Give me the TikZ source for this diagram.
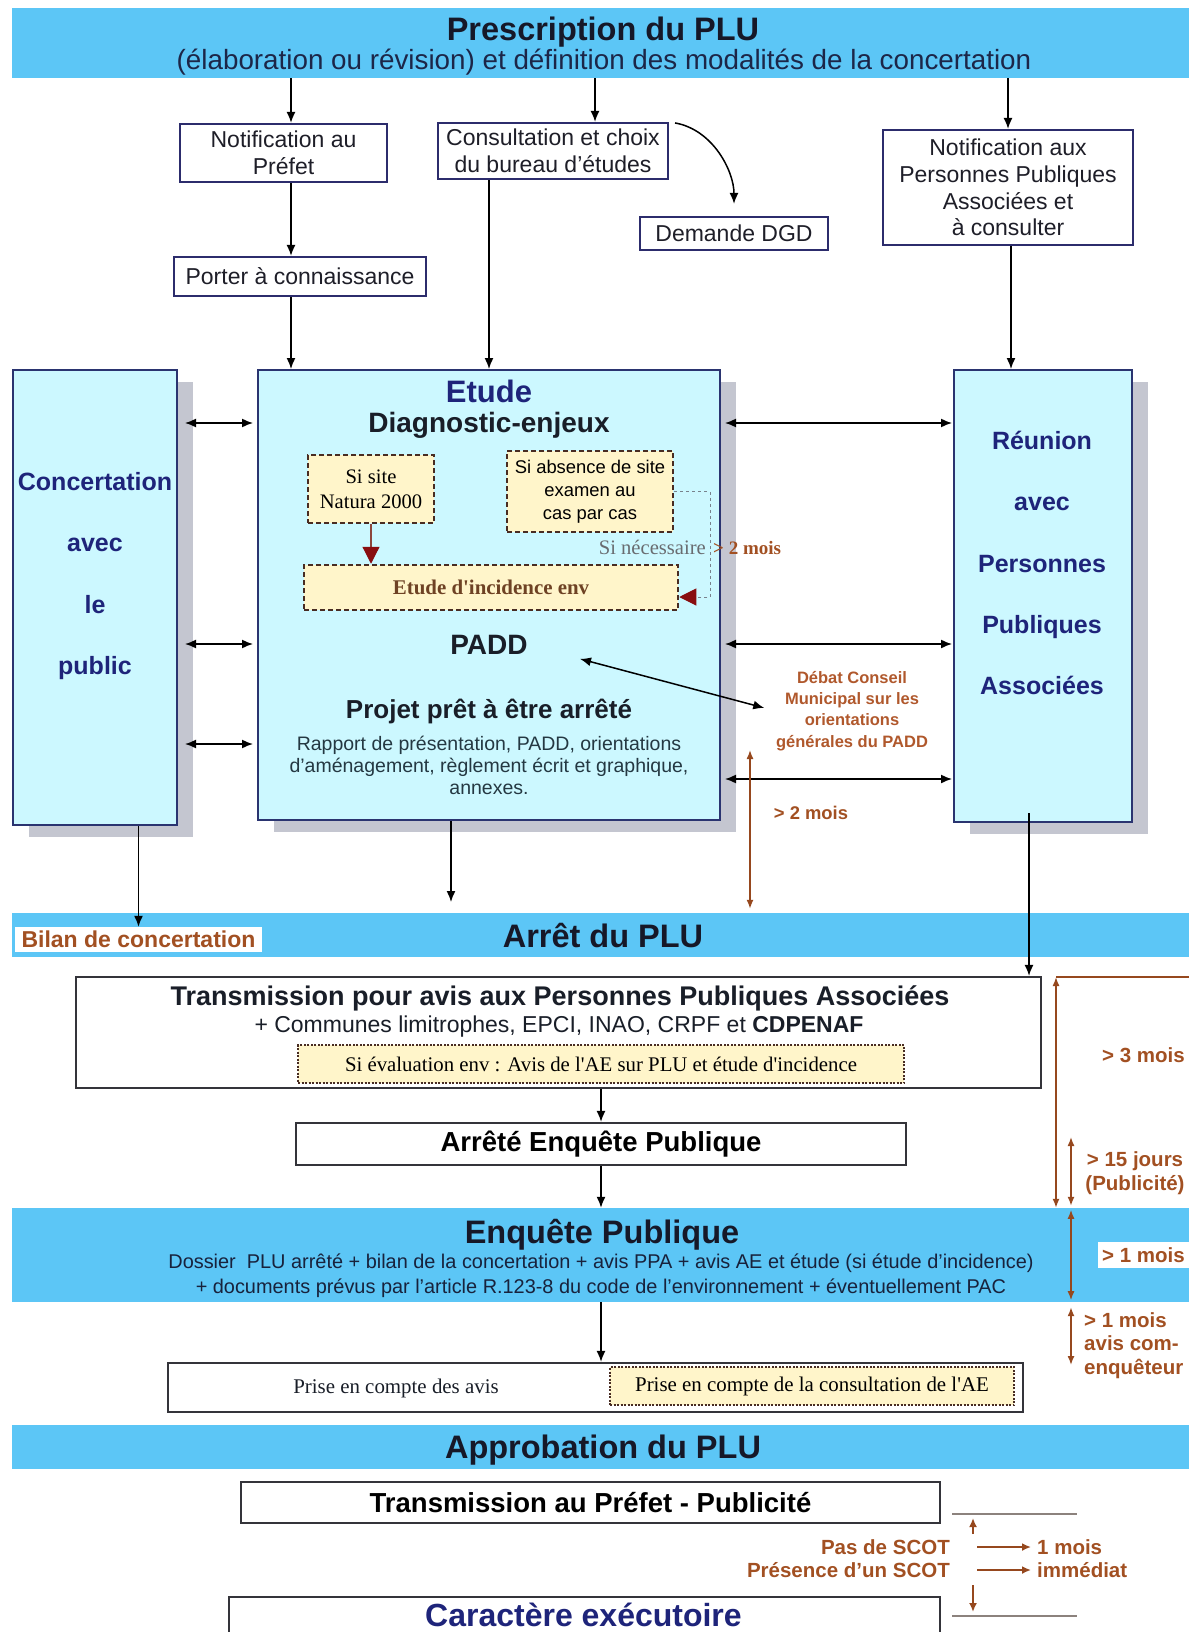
\documentclass[tikz,border=0pt]{standalone}
\usepackage{fontspec}
\setmainfont{Liberation Sans}
\newfontfamily\timesrm{Liberation Serif}
\usepackage{tikz}
\usetikzlibrary{arrows.meta, positioning}
\newcommand{\fsz}[2]{\fontsize{#1}{#2}\selectfont}

\begin{document}
\begin{tikzpicture}[x=1pt,y=1pt,yscale=-1,xscale=1,
  band/.style={fill={rgb, 255:red, 92; green, 198; blue, 246 }, inner sep=0pt, minimum width=1177pt},
  bandtitle/.style={inner sep=0pt, font=\fsz{32.5}{37}\bfseries, text={rgb, 255:red, 22; green, 24; blue, 40 }},
  topbox/.style={draw={rgb, 255:red, 44; green, 44; blue, 108 }, line width=2.2pt, fill=white, inner sep=0pt, align=center, font=\fsz{23}{26.7}, text={rgb, 255:red, 30; green, 30; blue, 40 }},
  tallbox/.style={draw={rgb, 255:red, 42; green, 52; blue, 112 }, line width=2pt, fill={rgb, 255:red, 204; green, 248; blue, 255 }, inner sep=0pt},
  shade/.style={fill={rgb, 255:red, 196; green, 198; blue, 208 }},
  whitebox/.style={draw={rgb, 255:red, 52; green, 52; blue, 58 }, line width=2.2pt, fill=white, inner sep=0pt},
  notebox/.style={draw={rgb, 255:red, 72; green, 44; blue, 34 }, line width=2.5pt, dash pattern=on 5pt off 3pt, fill={rgb, 255:red, 255; green, 245; blue, 202 }, inner sep=0pt, align=center},
  dotbox/.style={notebox, line width=2pt, dash pattern=on 2pt off 1.5pt},
  navytext/.style={text={rgb, 255:red, 30; green, 36; blue, 122 }},
  browntext/.style={text={rgb, 255:red, 162; green, 80; blue, 34 }},
  inner/.style={inner sep=0pt, text={rgb, 255:red, 25; green, 30; blue, 40 }},
  timetext/.style={browntext, inner sep=0pt, font=\fsz{20.5}{23.5}\bfseries},
  arr/.style={line width=1.5pt, -{Latex[length=11pt,width=9pt]}},
  darr/.style={line width=1.5pt, {Latex[length=11pt,width=9pt]}-{Latex[length=11pt,width=9pt]}},
  brarr/.style={draw={rgb, 255:red, 150; green, 72; blue, 30 }, line width=1.5pt, {Latex[length=9pt,width=7pt]}-{Latex[length=9pt,width=7pt]}},
  brline/.style={draw={rgb, 255:red, 150; green, 72; blue, 30 }, line width=1.5pt},
  brtip/.style={draw={rgb, 255:red, 150; green, 72; blue, 30 }, line width=2pt, -{Latex[length=9pt,width=8pt]}},
  greyline/.style={draw={rgb, 255:red, 140; green, 130; blue, 125 }, line width=2pt},
  redtip/.style={-{Triangle[length=17pt,width=17pt,color={rgb, 255:red, 136; green, 14; blue, 16 }]}}
]
\useasboundingbox (0,0) rectangle (1189,1632);

%Shape: Rectangle [bands]
\draw (600.5,43) node (presc) [band, minimum height=70pt] {};
\draw (600.5,935) node (arret) [band, minimum height=44pt] {};
\draw (600.5,1255) node (enq) [band, minimum height=94pt] {};
\draw (600.5,1447) node (approb) [band, minimum height=44pt] {};

%Shape: Rectangle [shadows]
\fill[shade] (28.5,382) rectangle (193,837);
\fill[shade] (274,382) rectangle (736,832);
\fill[shade] (970,382) rectangle (1148,834);

%Shape: Rectangle [tall boxes]
\draw (94.75,597.5) node (concert) [tallbox, minimum width=164.5pt, minimum height=455pt] {};
\draw (489,595) node (etude) [tallbox, minimum width=462pt, minimum height=450pt] {};
\draw (1043,596) node (reunion) [tallbox, minimum width=178pt, minimum height=452pt] {};

%Shape: Rectangle [top boxes]
\draw (283.5,153) node (notifpref) [topbox, minimum width=207pt, minimum height=58pt] {Notification au\\Préfet};
\draw (553,151) node (consult) [topbox, minimum width=230pt, minimum height=56pt] {Consultation et choix\\du bureau d'études};
\draw (734,233.5) node (dgd) [topbox, minimum width=188pt, minimum height=33pt] {Demande DGD};
\draw (1008,187.5) node (notifppa) [topbox, minimum width=250pt, minimum height=115pt] {Notification aux\\Personnes Publiques\\Associées et\\à consulter};
\draw (300,276.5) node (porter) [topbox, minimum width=252pt, minimum height=39pt] {Porter à connaissance};

%Shape: Rectangle [white boxes]
\draw (558.5,1032.5) node (trans) [whitebox, minimum width=965pt, minimum height=111pt] {};
\draw (601,1144) node (arrete) [whitebox, minimum width=610pt, minimum height=42pt, font=\fsz{27.5}{31}\bfseries] {Arrêté Enquête Publique};
\draw (595.5,1387.5) node (prise) [whitebox, minimum width=855pt, minimum height=49pt] {};
\draw (590.5,1502.5) node (transpref) [whitebox, minimum width=699pt, minimum height=41pt, font=\fsz{27.5}{31}\bfseries] {Transmission au Préfet - Publicité};
\draw (584.5,1627) node (caract) [whitebox, minimum width=711pt, minimum height=60pt] {};

%Shape: Rectangle [notes]
\draw (371,489) node (natura) [notebox, minimum width=126pt, minimum height=68pt, font=\timesrm\fsz{20.6}{25}] {Si site\\Natura 2000};
\draw (590,491.5) node (absence) [notebox, minimum width=166pt, minimum height=81pt, font=\fsz{18.4}{23}] {Si absence de site\\examen au\\cas par cas};
\draw (491,587.5) node (incid) [notebox, minimum width=374pt, minimum height=45pt, font=\timesrm\bfseries\fsz{20.9}{24}, text={rgb, 255:red, 110; green, 66; blue, 36 }] {Etude d'incidence env};
\draw (601,1064) node (evalae) [dotbox, minimum width=606pt, minimum height=38pt, font=\timesrm\fsz{20.8}{24}] {Si évaluation env : Avis de l'AE sur PLU et étude d'incidence};
\draw (812,1386) node (priseae) [dotbox, line width=1.5pt, minimum width=404pt, minimum height=38pt, font=\timesrm\fsz{20.9}{24}] {Prise en compte de la consultation de l'AE};

% Text Node
\draw (603,32) node (presctitle) [bandtitle] {Prescription du PLU};
% Text Node
\draw (604,62) node (prescsub) [inner sep=0pt, font=\fsz{27.8}{32}, text={rgb, 255:red, 28; green, 38; blue, 72 }] {(élaboration ou révision) et définition des modalités de la concertation};
% Text Node
\draw (95,576) node (concerttext) [inner sep=0pt, align=center, navytext, font=\fsz{25}{61.3}\bfseries] {Concertation\\avec\\le\\public};
% Text Node
\draw (1042,563) node (reuniontext) [inner sep=0pt, align=center, navytext, font=\fsz{25}{61.3}\bfseries] {Réunion\\avec\\Personnes\\Publiques\\Associées};
% Text Node
\draw (489,391) node (etudetitle) [inner sep=0pt, navytext, font=\fsz{31}{36}\bfseries] {Etude};
% Text Node
\draw (489,425) node (diag) [inner, font=\fsz{28}{32}\bfseries] {Diagnostic-enjeux};
% Text Node
\draw (489,645) node (padd) [inner, font=\fsz{28}{32}\bfseries] {PADD};
% Text Node
\draw (489,711) node (projet) [inner, font=\fsz{26}{30}\bfseries] {Projet prêt à être arrêté};
% Text Node
\draw (489,765) node (rapport) [inner sep=0pt, align=center, font=\fsz{19.5}{22}, text={rgb, 255:red, 36; green, 56; blue, 66 }] {Rapport de présentation, PADD, orientations\\d'aménagement, règlement écrit et graphique,\\annexes.};
% Text Node
\draw (706,547) node (necess) [anchor=east, inner sep=0pt, font=\timesrm\fsz{20.6}{24}, text={rgb, 255:red, 105; green, 108; blue, 112 }] {Si nécessaire};
% Text Node
\draw (713,548) node (deuxmoisa) [anchor=west, inner sep=0pt, browntext, font=\timesrm\bfseries\fsz{19}{23}] {> 2 mois};
% Text Node
\draw (852,711) node (debat) [inner sep=0pt, align=center, text={rgb, 255:red, 176; green, 88; blue, 44 }, font=\fsz{16.5}{21.3}\bfseries] {Débat Conseil\\Municipal sur les\\orientations\\générales du PADD};
% Text Node
\draw (811,813) node (deuxmoisb) [inner sep=0pt, browntext, font=\fsz{18.4}{22}\bfseries] {> 2 mois};
% Text Node
\draw (603,936) node (arrettitle) [bandtitle] {Arrêt du PLU};
% Text Node
\draw (138.5,939.5) node (bilan) [fill=white, minimum width=247pt, minimum height=25pt, inner sep=0pt, browntext, font=\fsz{23}{26}\bfseries] {Bilan de concertation};
% Text Node
\draw (560,998) node (transtitle) [inner, font=\fsz{27}{31}\bfseries] {Transmission pour avis aux Personnes Publiques Associées};
% Text Node
\draw (559,1027) node (transsub) [inner, font=\fsz{23}{27}] {+ Communes limitrophes, EPCI, INAO, CRPF et \textbf{CDPENAF}};
% Text Node
\draw (602,1235) node (enqtitle) [bandtitle] {Enquête Publique};
% Text Node
\draw (601,1276) node (enqtext) [inner sep=0pt, align=center, font=\fsz{19.9}{25}, text={rgb, 255:red, 24; green, 34; blue, 60 }] {Dossier\ \ PLU arrêté + bilan de la concertation + avis PPA + avis AE et étude (si étude d'incidence)\\+ documents prévus par l'article R.123-8 du code de l'environnement + éventuellement PAC};
% Text Node
\draw (396,1388) node (prisetext) [inner, font=\timesrm\fsz{20.9}{24}] {Prise en compte des avis};
% Text Node
\draw (603,1450) node (approbtitle) [bandtitle] {Approbation du PLU};
% Text Node
\draw (583.5,1615) node (caracttext) [inner sep=0pt, navytext, font=\fsz{32}{36}\bfseries] {Caractère exécutoire};

% Text Node [delais]
\draw (1143.5,1055) node (troismois) [timetext] {> 3 mois};
\draw (1135,1173) node (quinzej) [timetext, align=center] {> 15 jours\\(Publicité)};
\draw (1143.5,1255) node (unmoisa) [timetext, fill=white, minimum width=91pt, minimum height=26pt] {> 1 mois};
\draw (1084,1312) node (unmoisb) [timetext, align=left, anchor=north west] {> 1 mois\\avis com-\\enquêteur};
\draw (950,1547) node (passcot) [timetext, anchor=east] {Pas de SCOT};
\draw (950,1570) node (presscot) [timetext, anchor=east] {Présence d'un SCOT};
\draw (1037,1547) node (unmoisc) [timetext, anchor=west] {1 mois};
\draw (1037,1570) node (immed) [timetext, anchor=west] {immédiat};

%Straight Lines [colonnes]
\coordinate (colA) at (291,0);
\coordinate (colD) at (595,0);
\coordinate (colC) at (1011,0);
\coordinate (etudeout) at (451,902);
\coordinate (ppaout) at (1029,0);
\coordinate (rowa) at (0,423);
\coordinate (rowb) at (0,644);
\coordinate (rowc) at (0,744);
\coordinate (rowe) at (0,779);
\coordinate (necbend) at (710,597);
\coordinate (debatbot) at (750,750);
\coordinate (tl) at (1056,977);
\coordinate (qj) at (1071,1137);
\coordinate (avisc) at (1071,1365);
\coordinate (scot) at (973,0);

%Straight Lines
\draw[arr] (presc.south -| colA) -- (notifpref.north -| colA);
\draw[arr] (presc.south -| colD) -- (consult.north -| colD);
\draw[arr] (presc.south -| notifppa.north) -- (notifppa.north);
\draw[arr] (notifpref.south -| colA) -- (porter.north -| colA);
\draw[arr] (porter.south -| colA) -- (etude.north -| colA);
\draw[arr] (consult.south -| etude.north) -- (etude.north);
\draw[arr] (notifppa.south -| colC) -- (reunion.north -| colC);
%Curve Lines
\draw[arr, shorten <=6pt, shorten >=12pt] (consult.north east) to[out=10,in=-90] (dgd.north);

%Straight Lines [echanges]
\draw[darr, shorten <=7pt, shorten >=4pt] (concert.east |- rowa) -- (etude.west |- rowa);
\draw[darr, shorten <=7pt, shorten >=4pt] (concert.east |- rowb) -- (etude.west |- rowb);
\draw[darr, shorten <=7pt, shorten >=4pt] (concert.east |- rowc) -- (etude.west |- rowc);
\draw[darr, shorten <=4pt, shorten >=1pt] (etude.east |- rowa) -- (reunion.west |- rowa);
\draw[darr, shorten <=4pt, shorten >=1pt] (etude.east |- rowb) -- (reunion.west |- rowb);
\draw[darr, shorten <=4pt, shorten >=1pt] (etude.east |- rowe) -- (reunion.west |- rowe);
\draw[darr, shorten <=54pt, shorten >=12pt] (padd.east) -- (debat.west);

%Straight Lines [incidence]
\draw[redtip, line width=1.2pt, draw={rgb, 255:red, 140; green, 70; blue, 60 }] (natura.south) -- (incid.north -| natura.south);
\draw[redtip, line width=1pt, dashed, draw={rgb, 255:red, 120; green, 130; blue, 140 }] (absence.east) -| (necbend) -- (incid.east |- necbend);

%Straight Lines [arret]
\draw[arr] (concert.south -| bilan.north) -- (bilan.north);
\draw[arr] (etude.south -| etudeout) -- (etudeout);
\draw[arr, shorten <=-10pt] (reunion.south -| ppaout) -- (trans.north -| ppaout);
\draw[brarr, shorten >=4pt] (debatbot) -- (arret.north -| debatbot);

%Straight Lines [suite]
\draw[arr] (trans.south -| arrete.north) -- (arrete.north);
\draw[arr] (arrete.south) -- (enq.north -| arrete.south);
\draw[arr] (enq.south -| arrete.south) -- (prise.north -| arrete.south);

%Straight Lines [delais]
\draw[brline] (tl) -- (tl -| presc.east);
\draw[brarr] (tl) -- (enq.north -| tl);
\draw[brarr, shorten >=2pt] (qj) -- (enq.north -| qj);
\draw[brarr, shorten <=2pt, shorten >=2pt] (enq.north -| qj) -- (enq.south -| qj);
\draw[brarr, shorten <=5pt] (enq.south -| qj) -- (avisc);

%Straight Lines [scot]
\draw[greyline] (952,1514) -- (1077,1514);
\draw[greyline] (952,1616) -- (1077,1616);
\draw[brtip] (scot |- 0,1534) -- (scot |- 0,1518);
\draw[brtip] (scot |- 0,1585) -- (scot |- 0,1612);
\draw[brtip, shorten <=27pt, shorten >=6pt] (passcot.east) -- (unmoisc.west);
\draw[brtip, shorten <=27pt, shorten >=6pt] (presscot.east) -- (immed.west);

\end{tikzpicture}
\end{document}
